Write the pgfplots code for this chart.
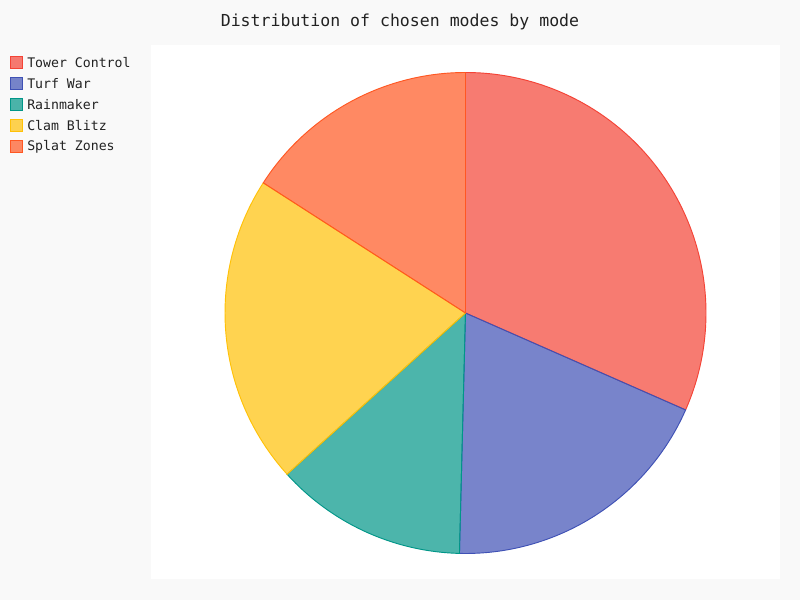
\documentclass[border=0pt]{standalone}
\usepackage{pgfplots}
\pgfplotsset{compat=1.18}
\usepackage{fontspec}
\setmainfont{DejaVu Sans Mono}
\definecolor{bgc}{HTML}{F9F9F9}
\definecolor{txt}{HTML}{222222}
\definecolor{cTC}{HTML}{F44336}
\definecolor{cTW}{HTML}{3F51B5}
\definecolor{cRM}{HTML}{009688}
\definecolor{cCB}{HTML}{FFC107}
\definecolor{cSZ}{HTML}{FF5722}
\begin{document}
\begin{tikzpicture}
\fill[bgc] (0pt,0pt) rectangle (600pt,450pt);
\fill[white] (113.25pt,15.75pt) rectangle (585pt,416.25pt);
\begin{axis}[at={(113.25pt,15.75pt)}, anchor=south west,
  scale only axis, width=471.75pt, height=400.5pt,
  xmin=-314.5, xmax=314.5, ymin=-266, ymax=268,
  axis lines=none, ticks=none, clip=false]
% shares in percent: Tower Control 31.6, Turf War 18.8, Rainmaker 12.9, Clam Blitz 20.8, Splat Zones 15.9
\filldraw[fill=cTC, fill opacity=0.7, draw=cTC, line width=0.7pt]
  (axis cs:0,0) -- (axis cs:{240.5*cos(90)},{240.5*sin(90)})
  arc[start angle=90, delta angle={-3.6*31.6}, radius=180.375pt] -- cycle;
\filldraw[fill=cTW, fill opacity=0.7, draw=cTW, line width=0.7pt]
  (axis cs:0,0) -- (axis cs:{240.5*cos(90-3.6*31.6)},{240.5*sin(90-3.6*31.6)})
  arc[start angle={90-3.6*31.6}, delta angle={-3.6*18.8}, radius=180.375pt] -- cycle;
\filldraw[fill=cRM, fill opacity=0.7, draw=cRM, line width=0.7pt]
  (axis cs:0,0) -- (axis cs:{240.5*cos(90-3.6*50.4)},{240.5*sin(90-3.6*50.4)})
  arc[start angle={90-3.6*50.4}, delta angle={-3.6*12.9}, radius=180.375pt] -- cycle;
\filldraw[fill=cCB, fill opacity=0.7, draw=cCB, line width=0.7pt]
  (axis cs:0,0) -- (axis cs:{240.5*cos(90-3.6*63.3)},{240.5*sin(90-3.6*63.3)})
  arc[start angle={90-3.6*63.3}, delta angle={-3.6*20.8}, radius=180.375pt] -- cycle;
\filldraw[fill=cSZ, fill opacity=0.7, draw=cSZ, line width=0.7pt]
  (axis cs:0,0) -- (axis cs:{240.5*cos(90-3.6*84.1)},{240.5*sin(90-3.6*84.1)})
  arc[start angle={90-3.6*84.1}, delta angle={-3.6*15.9}, radius=180.375pt] -- cycle;
\end{axis}
\node[txt, font=\fontsize{12.4pt}{14pt}\selectfont] at (300pt,433.5pt) {Distribution of chosen modes by mode};
\foreach \lab/\col [count=\i from 0] in {Tower Control/cTC, Turf War/cTW, Rainmaker/cRM, Clam Blitz/cCB, Splat Zones/cSZ}{
  \pgfmathsetmacro{\yy}{402.75-15.75*\i}
  \filldraw[fill=\col, fill opacity=0.7, draw=\col, line width=0.75pt]
    (7.5pt,\yy pt-4.5pt) rectangle (16.5pt,\yy pt+4.5pt);
  \node[txt, anchor=west, inner sep=0pt, font=\fontsize{9.9pt}{12pt}\selectfont] at (20.25pt,\yy pt) {\lab};
}
\end{tikzpicture}
\end{document}
